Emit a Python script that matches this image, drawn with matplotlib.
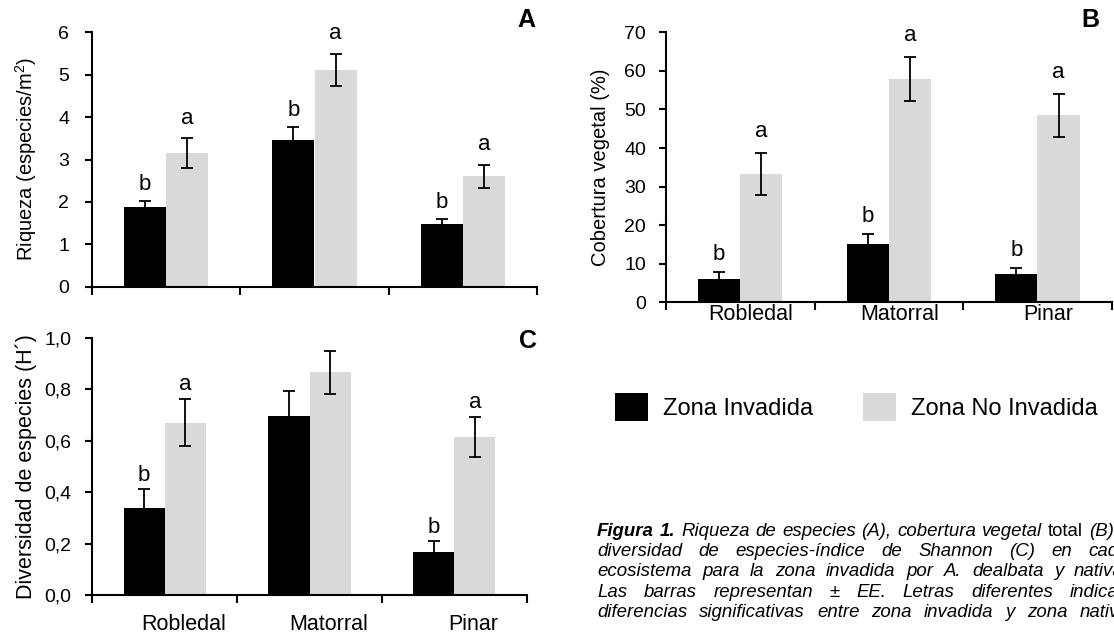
import numpy as np
import matplotlib
matplotlib.use("Agg")
import matplotlib.pyplot as plt
from matplotlib.patches import Patch

plt.rcParams['font.family'] = ['Liberation Sans', 'DejaVu Sans']
plt.rcParams['mathtext.default'] = 'regular'

# datos
categorias = ["Robledal", "Matorral", "Pinar"]
series = ["Zona Invadida", "Zona No Invadida"]

riqueza_inv = [1.87, 3.46, 1.47]
riqueza_inv_ee = [0.16, 0.30, 0.13]
riqueza_noinv = [3.15, 5.12, 2.60]
riqueza_noinv_ee = [0.35, 0.38, 0.28]
riqueza_letras_inv = ["b", "b", "b"]
riqueza_letras_noinv = ["a", "a", "a"]

cobertura_inv = [6.0, 15.1, 7.4]
cobertura_inv_ee = [1.8, 2.6, 1.6]
cobertura_noinv = [33.3, 57.9, 48.5]
cobertura_noinv_ee = [5.4, 5.8, 5.6]
cobertura_letras_inv = ["b", "b", "b"]
cobertura_letras_noinv = ["a", "a", "a"]

diversidad_inv = [0.337, 0.696, 0.167]
diversidad_inv_ee = [0.075, 0.097, 0.044]
diversidad_noinv = [0.670, 0.865, 0.614]
diversidad_noinv_ee = [0.090, 0.082, 0.077]
diversidad_letras_inv = ["b", "", "b"]
diversidad_letras_noinv = ["a", "", "a"]

leyenda_pie = [
    [("Figura", "bi"), ("1.", "bi"), ("Riqueza", "i"), ("de", "i"), ("especies", "i"),
     ("(A),", "i"), ("cobertura", "i"), ("vegetal", "i"), ("total", "n"), ("(B)", "i"), ("y", "n")],
    [(w, "i") for w in "diversidad de especies-índice de Shannon (C) en cada".split()],
    [(w, "i") for w in "ecosistema para la zona invadida por A. dealbata y nativa.".split()],
    [(w, "i") for w in "Las barras representan ± EE. Letras diferentes indican".split()],
    [(w, "i") for w in "diferencias significativas entre zona invadida y zona nativa".split()],
]

NEGRO = "#000000"
GRIS = "#d9d9d9"
W, H = 1114, 641

fig = plt.figure(figsize=(W / 100, H / 100), dpi=100)


def px_axes(x0, x1, y_top, y_bot):
    return fig.add_axes([x0 / W, 1 - y_bot / H, (x1 - x0) / W, (y_bot - y_top) / H])


def panel(ax, inv, inv_ee, noinv, noinv_ee, let_inv, let_noinv, ymax, ystep,
          off_b, off_a, ypad, etiquetas=False, lab_pad=0, lab_shift=0.0, fmt=None):
    x = np.arange(len(categorias)) + 0.5
    w = 0.284
    ax.bar(x - w / 2, inv, w, color=NEGRO, zorder=1)
    ax.bar(x + w / 2, noinv, w, color=GRIS, zorder=1)
    ax.errorbar(x - w / 2, inv, yerr=inv_ee, fmt='none', ecolor='black',
                elinewidth=1.3, capsize=4.4, capthick=1.3, zorder=2)
    ax.errorbar(x + w / 2, noinv, yerr=noinv_ee, fmt='none', ecolor='black',
                elinewidth=1.3, capsize=4.4, capthick=1.3, zorder=2)
    for i in range(len(categorias)):
        if let_inv[i]:
            ax.annotate(let_inv[i], (x[i] - w / 2, inv[i] + inv_ee[i]),
                        xytext=(0, off_b), textcoords='offset points',
                        ha='center', va='baseline', fontsize=16)
        if let_noinv[i]:
            ax.annotate(let_noinv[i], (x[i] + w / 2, noinv[i] + noinv_ee[i]),
                        xytext=(0, off_a), textcoords='offset points',
                        ha='center', va='baseline', fontsize=16)

    ax.set_xlim(0, len(categorias))
    ax.set_ylim(0, ymax)
    yt = np.arange(0, ymax + ystep / 2, ystep)
    ax.set_yticks(yt)
    if fmt:
        ax.set_yticklabels([fmt(v) for v in yt])
    ax.set_xticks(np.arange(len(categorias) + 1))
    ax.set_xticklabels([])
    if etiquetas:
        ax.set_xticks(x + lab_shift, categorias, minor=True)
        ax.tick_params(axis='x', which='minor', length=0, pad=lab_pad, labelsize=15.5)
    for s in ['top', 'right']:
        ax.spines[s].set_visible(False)
    for s in ['left', 'bottom']:
        ax.spines[s].set_linewidth(1.5)
    ax.tick_params(axis='x', which='major', direction='out', length=6, width=1.5)
    ax.tick_params(axis='y', direction='out', length=5, width=1.5, pad=ypad, labelsize=14)


axA = px_axes(92, 537, 32.3, 286.7)
panel(axA, riqueza_inv, riqueza_inv_ee, riqueza_noinv, riqueza_noinv_ee,
      riqueza_letras_inv, riqueza_letras_noinv, 6, 1, 8, 10.5, 11.5)
axA.set_ylabel("Riqueza (especies/m$^2$)", fontsize=14.5, va='center')
axA.yaxis.set_label_coords((26 - 92) / 445, 0.5)

axB = px_axes(666, 1111.7, 32.3, 302.3)
panel(axB, cobertura_inv, cobertura_inv_ee, cobertura_noinv, cobertura_noinv_ee,
      cobertura_letras_inv, cobertura_letras_noinv, 70, 10, 8.5, 11.5, 9.4,
      etiquetas=True, lab_pad=1.5, lab_shift=0.07)
axB.set_ylabel("Cobertura vegetal (%)", fontsize=14.5, va='center')
axB.yaxis.set_label_coords((600 - 666) / 445.7, 0.5)

axC = px_axes(92.3, 526.7, 337.7, 595)
panel(axC, diversidad_inv, diversidad_inv_ee, diversidad_noinv, diversidad_noinv_ee,
      diversidad_letras_inv, diversidad_letras_noinv, 1.0, 0.2, 5.5, 6.5, 10,
      etiquetas=True, lab_pad=13.7, lab_shift=0.13,
      fmt=lambda v: f"{v:.1f}".replace(".", ","))
axC.set_ylabel("Diversidad de especies (H´)", fontsize=15.5, va='center')
axC.yaxis.set_label_coords((26 - 92.3) / 434.4, 0.5)

for letra, (lx, ly) in zip("ABC", [(526, 20), (1090, 20), (528, 341)]):
    fig.text(lx / W, 1 - ly / H, letra, fontsize=18, weight='bold', ha='center', va='center')

fig.legend(handles=[Patch(facecolor=NEGRO), Patch(facecolor=GRIS)], labels=series,
           ncol=2, frameon=False, loc='center left',
           bbox_to_anchor=(615 / W, 1 - 407 / H), fontsize=17,
           handlelength=1.4, handleheight=1.4, handletextpad=0.64,
           columnspacing=2.1, borderpad=0, borderaxespad=0)

# pie de figura justificado (cortado en el borde derecho como en el original)
estilos = {"bi": dict(style='italic', weight='bold'),
           "i": dict(style='italic'),
           "n": dict()}
renderer = fig.canvas.get_renderer()
x_ini, x_fin = 597, 1129
base0, paso = 536, 20.2
for k, linea in enumerate(leyenda_pie):
    yb = 1 - (base0 + k * paso) / H
    txts = [fig.text(0, yb, pal, fontsize=13.4, va='baseline', **estilos[st])
            for pal, st in linea]
    anchos = [t.get_window_extent(renderer).width for t in txts]
    hueco = (x_fin - x_ini - sum(anchos)) / (len(txts) - 1)
    xp = x_ini
    for t, a in zip(txts, anchos):
        t.set_x(xp / W)
        xp += a + hueco

fig.savefig("out.png", dpi=100)
